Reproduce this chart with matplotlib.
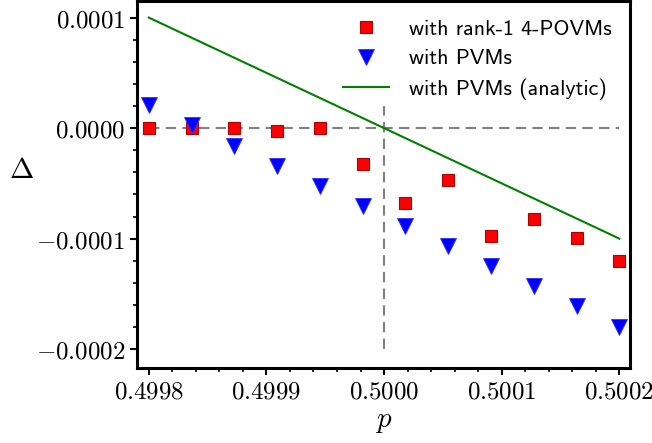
import numpy as np
import matplotlib
matplotlib.use("Agg")
import matplotlib.pyplot as plt
from matplotlib.ticker import FixedLocator, FixedFormatter, MultipleLocator

plt.rcParams["mathtext.fontset"] = "cm"

# data
p_vals = np.linspace(0.4998, 0.5002, 12)
delta_povm = [0.0, 0.0, 0.0, -0.000003, 0.0, -0.0000321,
              -0.0000677, -0.000047, -0.0000977, -0.000082, -0.0000992, -0.0001203]
delta_pvm = [0.0000205, 0.0000027, -0.0000158, -0.0000339, -0.0000523, -0.0000704,
             -0.0000882, -0.0001068, -0.0001248, -0.0001432, -0.0001612, -0.0001796]
analytic_p = [0.4998, 0.5002]
analytic_delta = [0.0001, -0.0001]

x_ticks = [0.4998, 0.4999, 0.5000, 0.5001, 0.5002]
x_ticklabels = [r"$0.4998$", r"$0.4999$", r"$0.5000$", r"$0.5001$", r"$0.5002$"]
y_ticks = [0.0001, 0.0, -0.0001, -0.0002]
y_ticklabels = [r"$0.0001$", r"$0.0000$", r"$-0.0001$", r"$-0.0002$"]

labels = ["with rank-1 4-POVMs", "with PVMs", "with PVMs (analytic)"]

fig = plt.figure(figsize=(6.52, 4.43), dpi=100)
ax = fig.add_axes([137 / 652, 1 - 368 / 443, (630 - 137) / 652, (368 - 1) / 443])

# guide lines
ax.plot([0.4998, 0.5002], [0, 0], ls=(0, (5, 3)), color="#808080", lw=1.5, zorder=1)
ax.plot([0.5, 0.5], [-0.0002, 0.00002], ls=(0, (5, 3)), color="#808080", lw=1.5, zorder=1)

ax.plot(p_vals, delta_povm, ls="none", marker="s", ms=8.5, mfc="red",
        mec="#b00000", mew=0.8, label=labels[0], zorder=3)
ax.plot(p_vals, delta_pvm, ls="none", marker="v", ms=11, mfc="blue",
        mec="#3030ff", mew=0.6, label=labels[1], zorder=3)
ax.plot(analytic_p, analytic_delta, color="green", lw=1.5, label=labels[2], zorder=2)

ax.set_xlim(0.49979, 0.500209)
ax.set_ylim(-0.000217, 0.000115)

ax.xaxis.set_major_locator(FixedLocator(x_ticks))
ax.xaxis.set_major_formatter(FixedFormatter(x_ticklabels))
ax.xaxis.set_minor_locator(MultipleLocator(0.00002))
ax.yaxis.set_major_locator(FixedLocator(y_ticks))
ax.yaxis.set_major_formatter(FixedFormatter(y_ticklabels))
ax.yaxis.set_minor_locator(MultipleLocator(0.00002))

ax.tick_params(which="major", direction="out", length=5, width=1.5, labelsize=18)
ax.tick_params(which="minor", direction="out", length=3, width=1.2)
for s in ax.spines.values():
    s.set_linewidth(2.2)

ax.set_xlabel(r"$p$", fontsize=21, labelpad=2)
ax.set_ylabel(r"$\Delta$", fontsize=21, rotation=0, labelpad=14)
ax.yaxis.set_label_coords(-0.235, 0.5)

ax.legend(loc="upper right", frameon=False, numpoints=1, handlelength=2.1,
          handletextpad=0.9, labelspacing=0.45,
          prop={"family": "cmss10", "size": 15.8}, borderaxespad=0.45)

fig.savefig("out.png", dpi=100)
